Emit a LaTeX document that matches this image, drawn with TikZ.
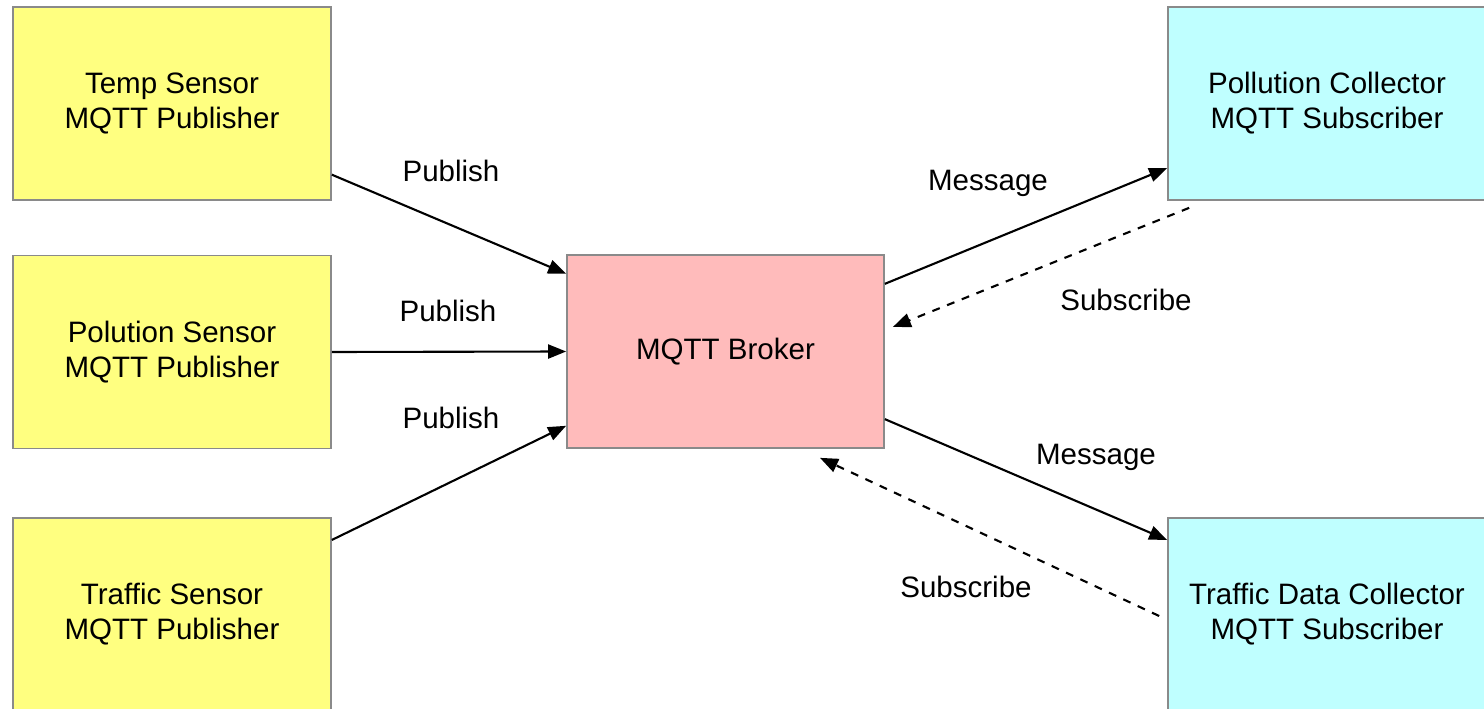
\documentclass[tikz,border=0pt]{standalone}
\usepackage{fontspec}
\setmainfont{Liberation Sans}
\usepackage{xcolor}
\usetikzlibrary{arrows.meta,positioning,calc}
\definecolor{pubyellow}{HTML}{FFFF80}
\definecolor{brokerpink}{HTML}{FFBBBB}
\definecolor{subcyan}{HTML}{BFFFFF}
\definecolor{boxgray}{HTML}{8A8A8A}
\newcommand{\diagfont}{\fontsize{16.8}{19.9}\selectfont}

\begin{document}
\begin{tikzpicture}[
    x=0.02cm, y=-0.02cm,
    pub/.style={rectangle, draw=boxgray, fill=pubyellow, line width=1pt, minimum width=6.36cm, minimum height=3.86cm, align=center, font=\diagfont},
    broker/.style={rectangle, draw=boxgray, fill=brokerpink, line width=1pt, minimum width=6.34cm, minimum height=3.86cm, align=center, font=\diagfont},
    sub/.style={rectangle, draw=boxgray, fill=subcyan, line width=1pt, minimum width=6.36cm, minimum height=3.86cm, align=center, font=\diagfont},
    arrow/.style={-{Triangle[length=0.36cm, width=0.28cm]}, line width=1.2pt},
    subarrow/.style={arrow, dash pattern=on 4.5pt off 4.5pt},
    lbl/.style={font=\diagfont, inner sep=1pt}
]
    \useasboundingbox (0,0) rectangle (1484,709);

    % Publishers (left)
    \node[pub] (temp) at (172,103.5) {Temp Sensor\\MQTT Publisher};
    \node[pub] (pol) at (172,352) {Polution Sensor\\MQTT Publisher};
    \node[pub] (traffic) at (172,614.5) {Traffic Sensor\\MQTT Publisher};

    % Broker (middle)
    \node[broker] (broker) at (725.5,351.5) {MQTT Broker};

    % Subscribers (right)
    \node[sub] (pc) at (1327,103.5) {Pollution Collector\\MQTT Subscriber};
    \node[sub] (tdc) at (1327,614.5) {Traffic Data Collector\\MQTT Subscriber};

    % Arrows - publish
    \draw[arrow] (temp.-24.8) -- (broker.154.8);
    \draw[arrow] (pol.east) -- (broker.west);
    \draw[arrow] (traffic.25.7) -- (broker.205.5);

    % Arrows - message
    \draw[arrow] (broker.23.4) -- (pc.202.4);
    \draw[arrow] (broker.-23.7) -- (tdc.155.8);

    % Arrows - subscribe (dashed)
    \draw[subarrow] ([shift={(22,7)}]pc.south west) -- ([shift={(8,-24.5)}]broker.east);
    \draw[subarrow] ([shift={(-8,1.5)}]tdc.west) -- ([shift={(94.5,9)}]broker.south);

    % Labels
    \node[lbl] (pub1) at (451,171) {Publish};
    \node[lbl] (pub2) at (448,311) {Publish};
    \node[lbl] (pub3) at (451,418) {Publish};
    \node[lbl] (msg1) at (988,183) {Message};
    \node[lbl] (msg2) at (1096,457) {Message};
    \node[lbl] (subs1) at (1126,300) {Subscribe};
    \node[lbl] (subs2) at (966,587) {Subscribe};
\end{tikzpicture}
\end{document}
